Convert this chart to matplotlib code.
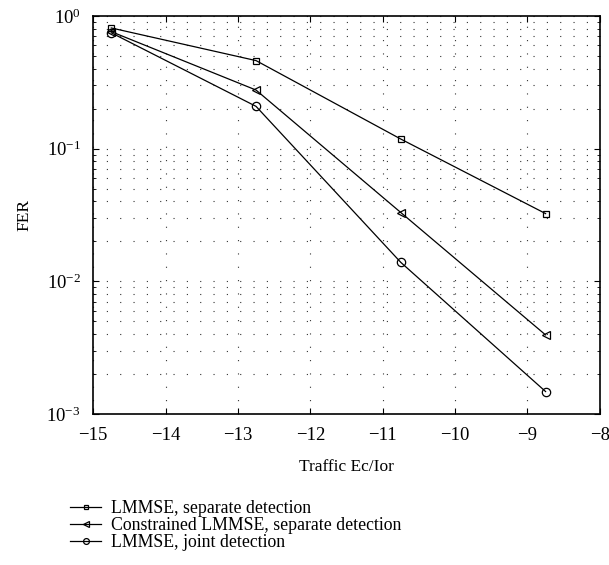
import numpy as np
import matplotlib
matplotlib.use("Agg")
import matplotlib.pyplot as plt
from matplotlib.ticker import LogLocator, NullFormatter, MultipleLocator

plt.rcParams['font.family'] = ['Liberation Serif', 'DejaVu Serif']
plt.rcParams['mathtext.fontset'] = 'stix'

# data
ec_ior = [-14.75, -12.75, -10.75, -8.75]
fer_lmmse_sep = [0.81, 0.46, 0.118, 0.0324]
fer_constr_sep = [0.76, 0.276, 0.033, 0.00395]
fer_lmmse_joint = [0.745, 0.208, 0.0139, 0.00148]
labels = ["LMMSE, separate detection",
          "Constrained LMMSE, separate detection",
          "LMMSE, joint detection"]

fig = plt.figure(figsize=(6.09, 5.65), dpi=100)
ax = fig.add_axes([0.153, 0.267, 0.832, 0.705])

ax.semilogy(ec_ior, fer_lmmse_sep, color='k', lw=0.9, marker='s', ms=5,
            mfc='none', mew=0.9, label=labels[0])
ax.semilogy(ec_ior, fer_constr_sep, color='k', lw=0.9, marker='<', ms=6,
            mfc='none', mew=0.9, label=labels[1])
ax.semilogy(ec_ior, fer_lmmse_joint, color='k', lw=0.9, marker='o', ms=6,
            mfc='none', mew=0.9, label=labels[2])

ax.set_xlim(-15, -8)
ax.set_ylim(1e-3, 1)
ax.xaxis.set_major_locator(MultipleLocator(1))
ax.yaxis.set_major_locator(LogLocator(base=10, numticks=10))
ax.yaxis.set_minor_locator(LogLocator(base=10, subs=np.arange(2, 10), numticks=20))
ax.yaxis.set_minor_formatter(NullFormatter())

dots = (0, (1, 11))
ax.grid(True, which='major', axis='both', color='#333333', lw=0.8, linestyle=dots)
ax.grid(True, which='minor', axis='y', color='#333333', lw=0.8, linestyle=dots)

ax.tick_params(which='both', direction='in', top=True, right=True,
               labelsize=13.5, pad=9)
ax.tick_params(which='major', length=4)
ax.tick_params(which='minor', length=2.5)
for s in ax.spines.values():
    s.set_linewidth(1.2)

ax.set_xlabel("Traffic Ec/Ior", fontsize=12.5, labelpad=11)
ax.set_ylabel("FER", fontsize=12.5, labelpad=10)

fig.legend(loc='upper left', bbox_to_anchor=(0.104, 0.127), frameon=False,
           fontsize=12.8, handlelength=1.7, markerscale=0.7, labelspacing=0.0,
           borderaxespad=0, handletextpad=0.6)

fig.savefig("out.png", dpi=100)
